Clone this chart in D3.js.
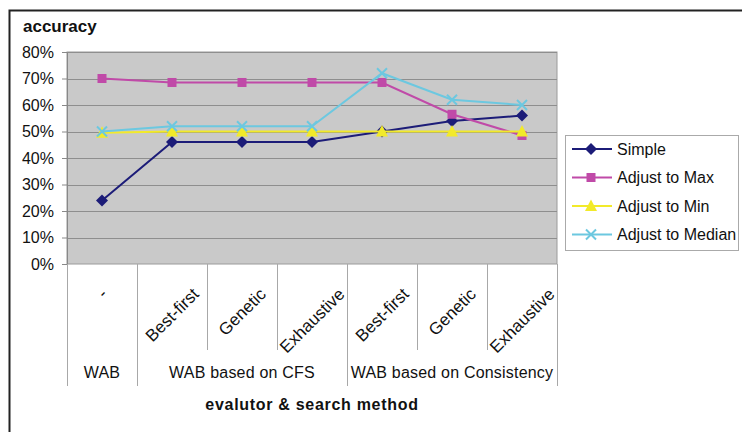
<!DOCTYPE html>
<html>
<head>
<meta charset="utf-8">
<script src="https://cdn.jsdelivr.net/npm/d3@7"></script>
<style>
  body { margin: 0; background: #fff; }
  text { font-family: "Liberation Sans", Arial, sans-serif; fill: #111; }
</style>
</head>
<body>
<div id="chart"></div>
<script>
// data
var categories = ['-', 'Best-first', 'Genetic', 'Exhaustive', 'Best-first', 'Genetic', 'Exhaustive'];
var groups = ['WAB', 'WAB based on CFS', 'WAB based on Consistency'];
var groupSizes = [1, 3, 3];
var seriesNames = ['Simple', 'Adjust to Max', 'Adjust to Min', 'Adjust to Median'];
var simple = [0.24, 0.46, 0.46, 0.46, 0.50, 0.54, 0.56];
var adjustMax = [0.70, 0.685, 0.685, 0.685, 0.685, 0.565, 0.485];
var adjustMin = [0.495, 0.50, 0.50, 0.50, 0.50, 0.50, 0.50];
var adjustMedian = [0.50, 0.52, 0.52, 0.52, 0.72, 0.62, 0.60];
var yTicks = [0, 0.1, 0.2, 0.3, 0.4, 0.5, 0.6, 0.7, 0.8];

var width = 742, height = 432;
var plot = { left: 67, right: 557, top: 52, bottom: 264 };

var svg = d3.select('#chart').append('svg')
    .attr('width', width)
    .attr('height', height);

// outer frame (runs off the right and bottom edges)
svg.append('rect')
    .attr('x', 9.5).attr('y', 10.5)
    .attr('width', 760).attr('height', 440)
    .attr('fill', '#fff')
    .attr('stroke', '#222').attr('stroke-width', 2);

var x = d3.scaleBand()
    .domain(d3.range(categories.length))
    .range([plot.left, plot.right])
    .padding(0);

var y = d3.scaleLinear()
    .domain([0, 0.8])
    .range([plot.bottom, plot.top]);

// plot background
svg.append('rect')
    .attr('x', plot.left).attr('y', plot.top)
    .attr('width', plot.right - plot.left).attr('height', plot.bottom - plot.top)
    .attr('fill', '#c9c9c9')
    .attr('stroke', '#9a9a9a');

// gridlines
svg.append('g').selectAll('line')
    .data(yTicks.slice(1))
    .enter().append('line')
    .attr('x1', plot.left).attr('x2', plot.right)
    .attr('y1', function (d) { return Math.round(y(d)) + 0.5; })
    .attr('y2', function (d) { return Math.round(y(d)) + 0.5; })
    .attr('stroke', '#8e8e8e');

// y axis
var yAxis = svg.append('g')
    .attr('transform', 'translate(' + plot.left + ',0)')
    .call(d3.axisLeft(y).tickValues(yTicks).tickSize(5).tickPadding(8)
        .tickFormat(d3.format('.0%')));
yAxis.select('.domain').attr('stroke', '#888');
yAxis.selectAll('.tick line').attr('stroke', '#888');
yAxis.selectAll('.tick text').style('font-size', '16px').attr('fill', '#111');

// category separators below the axis
var groupEdges = [0];
groupSizes.forEach(function (n, i) { groupEdges.push(groupEdges[i] + n); });
d3.range(categories.length + 1).forEach(function (i) {
    var xx = (i < categories.length ? x(i) : plot.right);
    var isGroup = groupEdges.indexOf(i) >= 0;
    svg.append('line')
        .attr('x1', Math.round(xx) + 0.5).attr('x2', Math.round(xx) + 0.5)
        .attr('y1', plot.bottom).attr('y2', isGroup ? 386 : 350)
        .attr('stroke', '#a8a8a8');
});

// rotated category labels
categories.forEach(function (c, i) {
    var cx = x(i) + x.bandwidth() / 2;
    var t = svg.append('text')
        .style('font-size', '17px')
        .attr('text-anchor', 'middle')
        .text(c);
    var w = t.node().getComputedTextLength();
    var cy = 287 + w / (2 * Math.SQRT2) + 4;
    t.attr('transform', 'translate(' + cx + ',' + cy + ') rotate(-45)')
        .attr('dy', '0.35em');
});

// group labels
groups.forEach(function (g, i) {
    var x0 = x(groupEdges[i]);
    var x1 = groupEdges[i + 1] < categories.length ? x(groupEdges[i + 1]) : plot.right;
    svg.append('text')
        .attr('x', (x0 + x1) / 2).attr('y', 378)
        .attr('text-anchor', 'middle')
        .style('font-size', '16px')
        .style('letter-spacing', '0.2px')
        .text(g);
});

// axis titles
svg.append('text')
    .attr('x', (plot.left + plot.right) / 2).attr('y', 410)
    .attr('text-anchor', 'middle')
    .style('font-size', '16px').style('font-weight', 'bold')
    .style('letter-spacing', '0.7px')
    .text('evalutor & search method');

svg.append('text')
    .attr('x', 23).attr('y', 32)
    .style('font-size', '17px').style('font-weight', 'bold')
    .text('accuracy');

// series
var series = [
    { name: seriesNames[0], values: simple, color: '#1c1c78', marker: 'diamond' },
    { name: seriesNames[1], values: adjustMax, color: '#c04aa8', marker: 'square' },
    { name: seriesNames[2], values: adjustMin, color: '#f2ea2a', marker: 'triangle' },
    { name: seriesNames[3], values: adjustMedian, color: '#6cc8e0', marker: 'x' }
];

function drawMarker(g, type, color) {
    if (type === 'diamond') {
        g.append('path').attr('d', 'M0,-6L6,0L0,6L-6,0Z').attr('fill', color);
    } else if (type === 'square') {
        g.append('rect').attr('x', -4.5).attr('y', -4.5).attr('width', 9).attr('height', 9).attr('fill', color);
    } else if (type === 'triangle') {
        g.append('path').attr('d', 'M0,-6.5L6,5L-6,5Z').attr('fill', color);
    } else {
        g.append('path').attr('d', 'M-5,-5L5,5M-5,5L5,-5')
            .attr('stroke', color).attr('stroke-width', 2).attr('fill', 'none');
    }
}

var line = d3.line()
    .x(function (d, i) { return x(i) + x.bandwidth() / 2; })
    .y(function (d) { return y(d); });

series.forEach(function (s) {
    svg.append('path')
        .datum(s.values)
        .attr('d', line)
        .attr('fill', 'none')
        .attr('stroke', s.color)
        .attr('stroke-width', 2);
    s.values.forEach(function (v, i) {
        var g = svg.append('g')
            .attr('transform', 'translate(' + (x(i) + x.bandwidth() / 2) + ',' + y(v) + ')');
        drawMarker(g, s.marker, s.color);
    });
});

// legend
var legend = svg.append('g');
legend.append('rect')
    .attr('x', 565.5).attr('y', 135.5)
    .attr('width', 173).attr('height', 115)
    .attr('fill', '#fff').attr('stroke', '#aaa');
series.forEach(function (s, i) {
    var ly = 149 + i * 28.5;
    legend.append('line')
        .attr('x1', 572).attr('x2', 612)
        .attr('y1', ly).attr('y2', ly)
        .attr('stroke', s.color).attr('stroke-width', 2);
    drawMarker(legend.append('g').attr('transform', 'translate(591,' + ly + ')'), s.marker, s.color);
    legend.append('text')
        .attr('x', 617).attr('y', ly).attr('dy', '0.35em')
        .style('font-size', '16px')
        .text(s.name);
});
</script>
</body>
</html>
